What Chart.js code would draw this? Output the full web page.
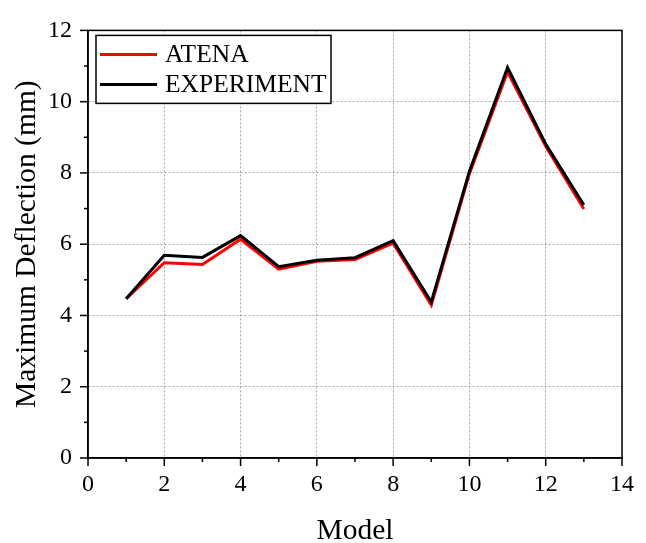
<!DOCTYPE html>
<html>
<head>
<meta charset="utf-8">
<script src="https://cdn.jsdelivr.net/npm/chart.js@4.4.0/dist/chart.umd.min.js"></script>
<style>
  html, body { margin: 0; padding: 0; background: #fff; }
  #wrap { width: 646px; height: 543px; }
</style>
</head>
<body>
<div id="wrap"><canvas id="mycanvas" width="646" height="543"></canvas></div>
<script>
// data
var models = [1, 2, 3, 4, 5, 6, 7, 8, 9, 10, 11, 12, 13];
var atena = [4.47, 5.48, 5.43, 6.14, 5.30, 5.52, 5.57, 6.03, 4.29, 7.98, 10.84, 8.75, 6.99];
var experiment = [4.47, 5.69, 5.63, 6.24, 5.37, 5.55, 5.62, 6.10, 4.38, 8.05, 10.96, 8.81, 7.10];
var xTicks = [0, 2, 4, 6, 8, 10, 12, 14];
var yTicks = [0, 2, 4, 6, 8, 10, 12];

var serif = "'Liberation Serif', 'Times New Roman', serif";

function toPoints(xs, ys) {
  var pts = [];
  for (var i in xs) {
    pts.push({ x: xs[i], y: ys[i] });
  }
  return pts;
}

/* frame, tick marks (major + minor) and the boxed legend */
var framePlugin = {
  id: 'frame',
  afterDraw: function(chart) {
    var ctx = chart.ctx;
    var a = chart.chartArea;
    var sx = chart.scales.x, sy = chart.scales.y;
    ctx.save();
    ctx.strokeStyle = '#000';
    ctx.lineWidth = 1.5;
    ctx.strokeRect(a.left, a.top, a.right - a.left, a.bottom - a.top);

    // x ticks
    for (var v = 0; v <= 14; v++) {
      var px = sx.getPixelForValue(v);
      var len = (v % 2 == 0) ? 8 : 4;
      ctx.beginPath();
      ctx.moveTo(px, a.bottom);
      ctx.lineTo(px, a.bottom + len);
      ctx.stroke();
    }
    // y ticks
    for (var w = 0; w <= 12; w++) {
      var py = sy.getPixelForValue(w);
      var l2 = (w % 2 == 0) ? 8 : 4;
      ctx.beginPath();
      ctx.moveTo(a.left, py);
      ctx.lineTo(a.left - l2, py);
      ctx.stroke();
    }

    // legend box
    var bx = a.left + 8, by = a.top + 5, bw = 235, bh = 68;
    ctx.fillStyle = '#fff';
    ctx.fillRect(bx, by, bw, bh);
    ctx.lineWidth = 1.5;
    ctx.strokeRect(bx, by, bw, bh);
    ctx.font = '25.5px ' + serif;
    ctx.textBaseline = 'middle';
    var ds = chart.data.datasets;
    for (var i = 0; i < ds.length; i++) {
      var ry = by + 19 + i * 30;
      ctx.strokeStyle = ds[i].borderColor;
      ctx.lineWidth = 3;
      ctx.beginPath();
      ctx.moveTo(bx + 4, ry);
      ctx.lineTo(bx + 61, ry);
      ctx.stroke();
      ctx.fillStyle = '#000';
      ctx.fillText(ds[i].label, bx + 69, ry + 1);
    }
    ctx.restore();
  }
};

var chartdata = {
  datasets: [
    {
      label: 'ATENA',
      data: toPoints(models, atena),
      borderColor: '#ff0000',
      backgroundColor: '#ff0000',
      borderWidth: 3,
      pointRadius: 0,
      showLine: true,
      fill: false,
      order: 1
    },
    {
      label: 'EXPERIMENT',
      data: toPoints(models, experiment),
      borderColor: '#000000',
      backgroundColor: '#000000',
      borderWidth: 3,
      pointRadius: 0,
      showLine: true,
      fill: false,
      order: 0
    }
  ]
};

var ctx = document.getElementById('mycanvas');

var LineGraph = new Chart(ctx, {
  type: 'scatter',
  data: chartdata,
  plugins: [framePlugin],
  options: {
    responsive: false,
    animation: false,
    devicePixelRatio: 1,
    layout: { padding: { left: 0, top: 20, right: 14, bottom: 0 } },
    scales: {
      x: {
        type: 'linear',
        min: 0,
        max: 14,
        afterBuildTicks: function(scale) {
          scale.ticks = xTicks.map(function(v) { return { value: v }; });
        },
        afterFit: function(scale) { scale.height = 85; },
        grid: {
          color: '#a8a8a8',
          lineWidth: 1,
          drawTicks: false
        },
        border: { display: true, color: '#000', width: 1.5, dash: [2, 2] },
        ticks: {
          color: '#000',
          font: { family: serif, size: 24 },
          padding: 12,
          maxRotation: 0
        },
        title: {
          display: true,
          text: 'Model',
          color: '#000',
          font: { family: serif, size: 29.5, lineHeight: 0.8 },
          padding: { top: 0, bottom: 0 }
        }
      },
      y: {
        type: 'linear',
        min: 0,
        max: 12,
        afterBuildTicks: function(scale) {
          scale.ticks = yTicks.map(function(v) { return { value: v }; });
        },
        afterFit: function(scale) { scale.width = 88; },
        grid: {
          color: '#a8a8a8',
          lineWidth: 1,
          drawTicks: false
        },
        border: { display: true, color: '#000', width: 1.5, dash: [2, 2] },
        ticks: {
          color: '#000',
          font: { family: serif, size: 24 },
          padding: 16
        },
        title: {
          display: true,
          text: 'Maximum Deflection (mm)',
          color: '#000',
          font: { family: serif, size: 29.5 },
          padding: { top: 10, bottom: 0 }
        }
      }
    },
    plugins: {
      legend: { display: false },
      tooltip: { enabled: false }
    }
  }
});
</script>
</body>
</html>
